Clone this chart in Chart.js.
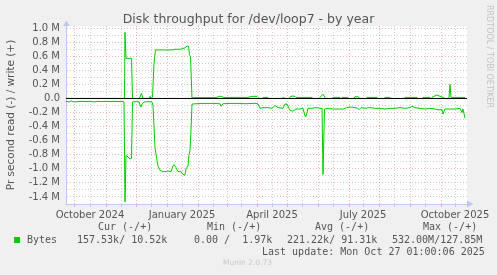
<!DOCTYPE html>
<html><head><meta charset="utf-8">
<script src="https://cdn.jsdelivr.net/npm/chart.js@4/dist/chart.umd.min.js"></script>
<style>
html,body{margin:0;padding:0;background:#f0f0f0;}
#wrap{position:relative;width:497px;height:275px;overflow:hidden;background:#f0f0f0;font-family:"DejaVu Sans",sans-serif;color:#555;}
canvas{position:absolute;left:0;top:0;}
.t{position:absolute;white-space:pre;line-height:1;}
.m{font-family:"DejaVu Sans Mono",monospace;font-size:10px;color:#555;}
</style></head><body>
<div id="wrap">
<canvas id="c" width="497" height="275"></canvas>
<div class="t" style="left:0;width:497px;text-align:center;top:13px;font-size:12.5px;color:#555;">Disk throughput for /dev/loop7 - by year</div>
<div class="t" style="left:493px;top:5px;font-size:8px;color:#c4c4c4;transform:rotate(90deg);transform-origin:0 0;">RRDTOOL / TOBI OETIKER</div>
<div class="t m" style="left:98px;top:222px;">Cur (-/+)</div>
<div class="t m" style="left:207px;top:222px;">Min (-/+)</div>
<div class="t m" style="left:315px;top:222px;">Avg (-/+)</div>
<div class="t m" style="left:423px;top:222px;">Max (-/+)</div>
<div style="position:absolute;left:14px;top:237px;width:6px;height:6px;background:#00cc00;"></div>
<div class="t m" style="left:27px;top:235px;">Bytes</div>
<div class="t m" style="left:77px;top:235px;">157.53k/ 10.52k</div>
<div class="t m" style="left:194px;top:235px;">0.00 /  1.97k</div>
<div class="t m" style="left:287px;top:235px;">221.22k/ 91.31k</div>
<div class="t m" style="left:392px;top:235px;">532.00M/127.85M</div>
<div class="t m" style="left:262px;top:247px;">Last update: Mon Oct 27 01:00:06 2025</div>
<div class="t" style="left:223px;top:259px;font-size:7.5px;color:#c8c8c8;">Munin 2.0.73</div>
</div>
<script>
// x = days since 2024-09-22 (start of the year graph)
const monthStartDays = [8,40,70,101,132,161,191,221,252,283,313,344,375];
const midMonthDays   = [24,55,85,116,147,175,206,236,267,297,328,359,389];
const xLabelDays     = [24,116,206,297,389];
const xLabels        = ['October 2024','January 2025','April 2025','July 2025','October 2025'];
const yMajorM = [-1.4,-1.2,-1.0,-0.8,-0.6,-0.4,-0.2,0.0,0.2,0.4,0.6,0.8,1.0];
const yMinorM = [-1.5,-1.3,-1.1,-0.9,-0.7,-0.5,-0.3,-0.1,0.1,0.3,0.5,0.7,0.9];

// read (-) series, MB/s
const readDays = [0,3,5,8,12,16,20,24,28,32,36,40,44,48,52,56,58,59,60,62,64,65.5,66.5,70,73,74,75,76,78,82,86,87,89,91,92,94,97,100,102,105,107,108,110,112,115,117,119,120,122,123,124,125,126,130,136,142,148,154,155,157,164,172,180,186,190,192,194,197,202,206,209,212,217,219,221,224,227,230,234,237,239,240,242,246,250,254,256,257,258.5,262,267,272,277,281,284,289,292,293,295,299,304,309,314,319,324,329,334,339,344,346,349,354,359,364,369,372,376,377,379,384,389,394,396,397,399];
const readM = [-0.04,-0.05,-0.035,-0.05,-0.045,-0.04,-0.045,-0.04,-0.05,-0.04,-0.045,-0.04,-0.045,-0.04,-0.045,-0.04,-0.05,-1.47,-0.81,-0.83,-0.86,-0.85,-0.05,-0.045,-0.05,-0.09,-0.12,-0.08,-0.05,-0.045,-0.05,-0.1,-0.7,-0.88,-0.96,-1.02,-1.04,-1.04,-1.03,-1.04,-0.96,-0.94,-0.98,-1.04,-1.04,-1.08,-1.09,-1.0,-0.96,-0.8,-0.74,-0.45,-0.08,-0.075,-0.07,-0.07,-0.07,-0.075,-0.11,-0.075,-0.07,-0.07,-0.075,-0.07,-0.07,-0.075,-0.14,-0.13,-0.13,-0.14,-0.1,-0.13,-0.14,-0.08,-0.08,-0.17,-0.18,-0.15,-0.15,-0.14,-0.25,-0.26,-0.14,-0.14,-0.13,-0.14,-0.14,-1.08,-0.15,-0.14,-0.15,-0.15,-0.15,-0.13,-0.12,-0.13,-0.14,-0.16,-0.13,-0.14,-0.13,-0.14,-0.14,-0.15,-0.14,-0.14,-0.13,-0.14,-0.13,-0.11,-0.13,-0.14,-0.15,-0.14,-0.15,-0.16,-0.16,-0.22,-0.15,-0.15,-0.15,-0.14,-0.2,-0.15,-0.28];

// write (+) series, MB/s
const writeDays = [0,58.5,59,60,65.5,66.5,73,74,75.5,77,83,84,85,86.5,88,89.5,107,109,115,117,119,121,122.5,123.5,124.5,126,127,150,154,158,182,186,191,192,193,196,197,202,203,216,217,219,223,224,226,229,230,246,247,253,254,257,259,260,266,267,274,275,276,282,283,288,289,292,294,300,301,311,312,318,319,324,325,338,339,351,352,356,357,364,365,366,368,371,374,377,379,382,383,384,385,389,399];
const writeM = [0,0,0.94,0.57,0.57,0,0,0.02,0.075,0,0,0.03,0,0.02,0.5,0.69,0.69,0.70,0.70,0.71,0.72,0.745,0.745,0.62,0.59,0,0.012,0.012,0.033,0.015,0.015,0.03,0.03,0.012,0,0,0.015,0.015,0,0,0.015,0,0,0.02,0.035,0.03,0.015,0.015,0,0,0.015,0.06,0.015,0,0,0.015,0.015,0,0.015,0.015,0,0,0.025,0.025,0,0,0.015,0.015,0,0,0.015,0.015,0,0,0.015,0.015,0,0,0.015,0.015,0,0.015,0.03,0.05,0.03,0.015,0,0,0.015,0.2,0.015,0.015,0.015];

const M = 1e6;
const toPts = (d, v) => d.map((x, i) => ({x: x, y: v[i] * M}));
const AXIS = '#c2c6f2';
const MAJ = 'rgba(225,110,110,0.5)';
const MIN = 'rgba(150,150,150,0.45)';

const bg = {
  id: 'bg',
  beforeDraw(chart) {
    const {ctx, chartArea: a} = chart;
    ctx.save(); ctx.fillStyle = '#ffffff';
    ctx.fillRect(a.left, a.top, a.right - a.left, a.bottom - a.top);
    ctx.restore();
  },
  afterDraw(chart) {
    const {ctx, chartArea: a} = chart;
    ctx.save(); ctx.fillStyle = AXIS;
    ctx.beginPath(); ctx.moveTo(a.left - 3, a.top); ctx.lineTo(a.left + 4, a.top); ctx.lineTo(a.left + 0.5, a.top - 5.5); ctx.closePath(); ctx.fill();
    ctx.beginPath(); ctx.moveTo(a.right, a.bottom - 3.5); ctx.lineTo(a.right, a.bottom + 3.5); ctx.lineTo(a.right + 6.5, a.bottom); ctx.closePath(); ctx.fill();
    ctx.restore();
  }
};

const xTicks = [{value: 0, kind: 'edge'}]
  .concat(monthStartDays.map(v => ({value: v, kind: 'major'})))
  .concat(midMonthDays.map(v => ({value: v, kind: 'minor'})))
  .concat([{value: 401, kind: 'edge'}])
  .sort((a, b) => a.value - b.value);
const yTicks = yMajorM.map(v => ({value: v * M, kind: 'major'}))
  .concat(yMinorM.map(v => ({value: v * M, kind: v === -1.5 ? 'edge' : 'minor'})))
  .sort((a, b) => a.value - b.value);

const gridColor = ctx => ctx.tick ? (ctx.tick.kind === 'major' ? MAJ : ctx.tick.kind === 'minor' ? MIN : 'rgba(0,0,0,0)') : MIN;

new Chart(document.getElementById('c'), {
  type: 'line',
  data: {
    datasets: [
      {label: 'zero', data: [{x: 0, y: 0}, {x: 401, y: 0}], borderColor: '#000000', borderWidth: 1, pointRadius: 0, order: 0},
      {label: 'write', data: toPts(writeDays, writeM), borderColor: '#00cc00', borderWidth: 1, pointRadius: 0, tension: 0, order: 1},
      {label: 'read', data: toPts(readDays, readM), borderColor: '#00cc00', borderWidth: 1, pointRadius: 0, tension: 0, order: 2}
    ]
  },
  options: {
    responsive: false, animation: false, events: [],
    layout: {padding: {left: 0, right: 30, top: 26, bottom: 55}},
    plugins: {legend: {display: false}, tooltip: {enabled: false}, title: {display: false}},
    scales: {
      x: {
        type: 'linear', min: 0, max: 401,
        afterBuildTicks: s => { s.ticks = xTicks.map(t => ({value: t.value, kind: t.kind})); },
        afterFit: s => { s.height = 16; },
        ticks: {
          autoSkip: false, maxRotation: 0, padding: 2, color: '#555',
          font: {family: 'DejaVu Sans', size: 10},
          callback: v => { const i = xLabelDays.indexOf(v); return i >= 0 ? xLabels[i] : ''; }
        },
        grid: {color: gridColor, tickColor: gridColor, drawTicks: true, tickLength: 3, lineWidth: 1, borderDash: [1, 2], tickBorderDash: []},
        border: {color: AXIS, width: 1, dash: [1, 2]}
      },
      y: {
        type: 'linear', min: -1.5 * M, max: 1.03 * M,
        afterBuildTicks: s => { s.ticks = yTicks.map(t => ({value: t.value, kind: t.kind})); },
        afterFit: s => { s.width = 66; },
        ticks: {
          autoSkip: false, padding: 6, color: '#555',
          font: {family: 'DejaVu Sans', size: 10},
          callback: v => {
            const r = Math.round(v / 1e5);
            if (r % 2 !== 0) return '';
            return r === 0 ? '0.0' : (r / 10).toFixed(1) + ' M';
          }
        },
        grid: {color: gridColor, drawTicks: false, lineWidth: 1, borderDash: [1, 2]},
        border: {color: AXIS, width: 1, dash: [1, 2]},
        title: {display: true, text: 'Pr second read (-) / write (+)', color: '#555', font: {family: 'DejaVu Sans', size: 10.5}, padding: {top: 5, bottom: 0}}
      }
    }
  },
  plugins: [bg]
});
</script>
</body></html>
